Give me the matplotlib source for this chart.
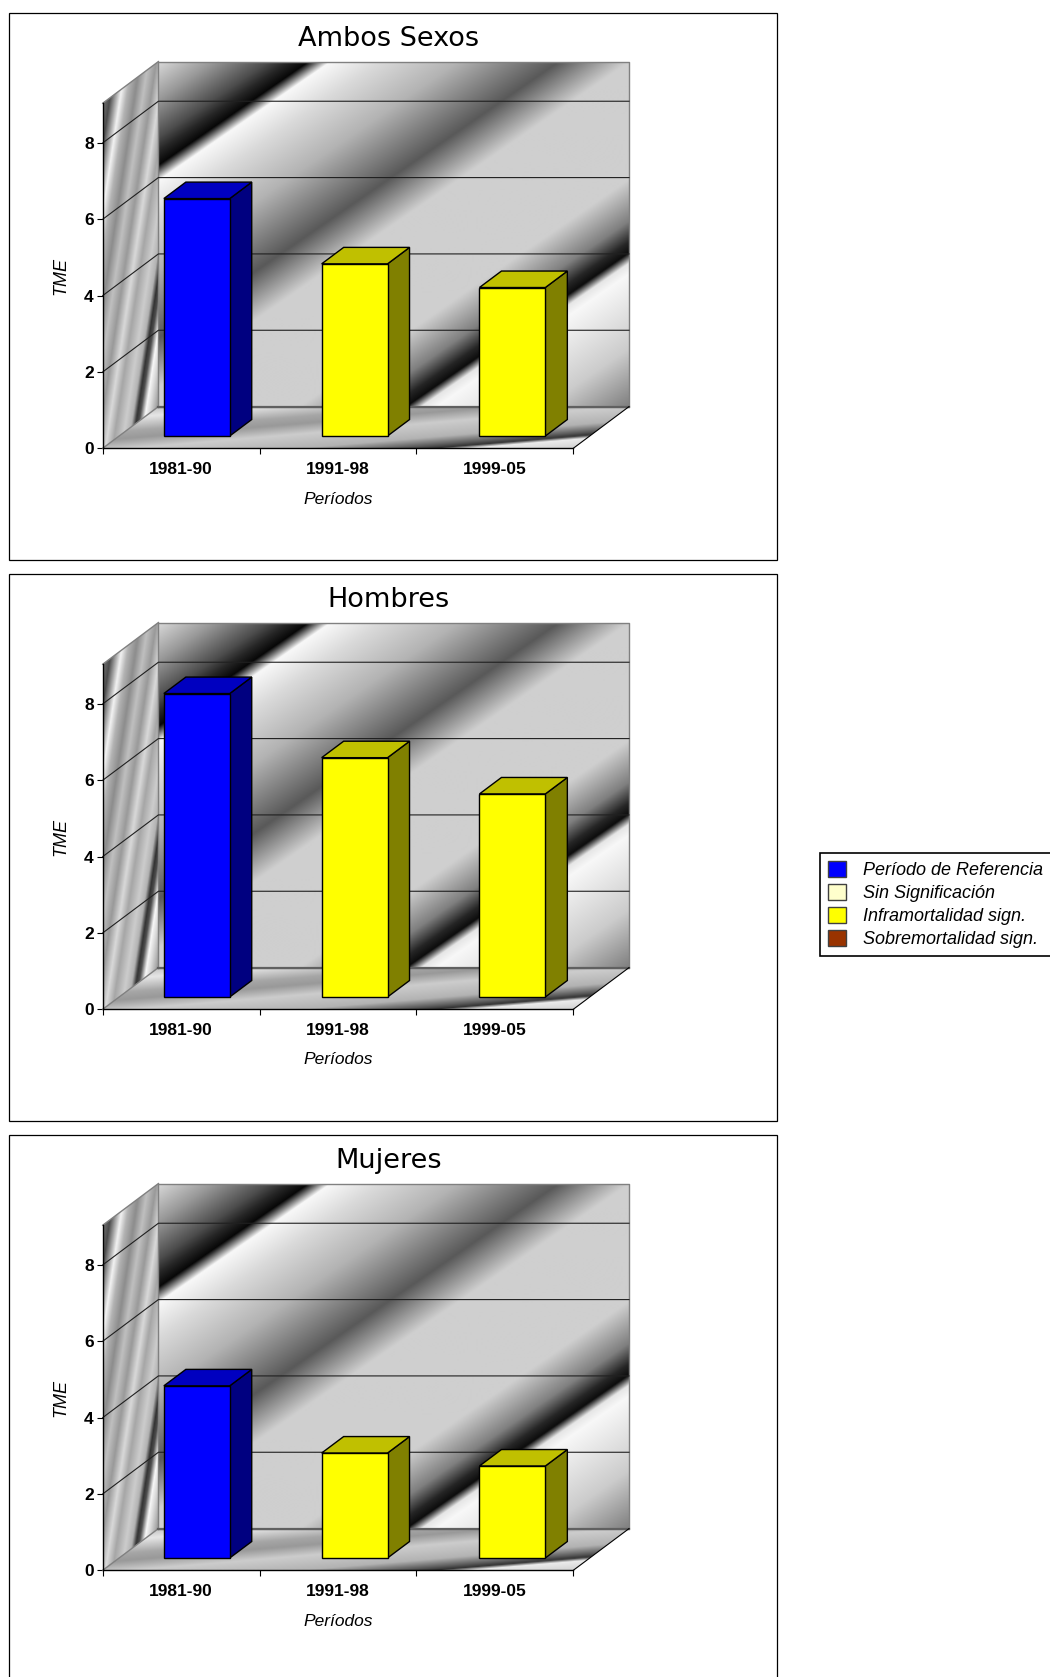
import numpy as np
import matplotlib
matplotlib.use('Agg')
import matplotlib.pyplot as plt
from matplotlib.patches import Polygon, Rectangle, Patch

PERIODOS = ['1981-90', '1991-98', '1999-05']
TME_AMBOS = [6.22, 4.51, 3.89]
TME_HOMBRES = [7.95, 6.27, 5.32]
TME_MUJERES = [4.51, 2.75, 2.41]
TITULOS = ['Ambos Sexos', 'Hombres', 'Mujeres']
Y_TICKS = [0, 2, 4, 6, 8]
Y_MAX = 9.04
LEYENDA = ['Período de Referencia', 'Sin Significación',
           'Inframortalidad sign.', 'Sobremortalidad sign.']
LEYENDA_COLORES = ['#0000FF', '#FFFFCC', '#FFFF00', '#993300']

W, H = 1050, 1677
PANEL_TOPS = [13, 574, 1135]
PANEL_H = 547
PX_CAT = 156.87
PX_TME = 38.17
# 3d offset of the back wall, in data units
DX = 55.7 / PX_CAT
DY = 41.7 / PX_TME

# gray stops of the chart background textures
WALL_S = [0, 55, 110, 130, 150, 172, 222, 300, 400, 470, 640, 700, 730, 746, 761, 777, 884, 968]
WALL_G = [.85, .6, .3, .15, .03, .97, .85, .7, .35, .81, .81, .5, .15, .05, .9, .97, .8, .5]
SIDE_U = [-58, -52, -46, -36, -30, -22, -14, -6, 2, 9, 18, 24, 28, 31, 36, 40, 47, 49]
SIDE_G = [.5, .45, .3, .95, .7, .55, .75, .6, .85, .65, .8, .7, .2, .3, .97, .85, .6, .65]
FLOOR_V = [-37, -28, -15, -8, 2, 16, 24, 27, 30, 39]
FLOOR_G = [.75, .9, .65, .6, .8, .7, .35, .2, .92, .82]

BLUE = ('#0000FF', '#000080', '#0000C0')
YELLOW = ('#FFFF00', '#808000', '#C0C000')
BAR_COLORS = [BLUE, YELLOW, YELLOW]

plt.rcParams['font.family'] = ['Liberation Sans', 'DejaVu Sans']


def project(x, y, d):
    return x + d * DX, y + d * DY


def textured(fig, ax, gray, extent, verts):
    im = ax.imshow(gray, cmap='gray', vmin=0, vmax=1, extent=extent, aspect='auto',
                   origin='upper', interpolation='bilinear', zorder=1)
    im.set_clip_box(fig.bbox)
    im.set_clip_path(Polygon(verts, transform=ax.transData))


def draw_walls(fig, ax):
    wall_w = int(3 * PX_CAT)
    wall_h = int(Y_MAX * PX_TME)
    xx, yy = np.meshgrid(np.arange(wall_w), np.arange(wall_h))
    gray = np.interp(xx + 1.45 * yy, WALL_S, WALL_G)
    textured(fig, ax, gray, (DX, 3 + DX, DY, Y_MAX + DY),
             [(DX, DY), (3 + DX, DY), (3 + DX, Y_MAX + DY), (DX, Y_MAX + DY)])

    side_w = int(DX * PX_CAT)
    side_h = int((Y_MAX + DY) * PX_TME)
    xx, yy = np.meshgrid(np.arange(side_w), np.arange(side_h) - side_h)
    gray = np.interp(xx + 0.15 * yy, SIDE_U, SIDE_G)
    textured(fig, ax, gray, (0, DX, 0, Y_MAX + DY),
             [(0, 0), (DX, DY), (DX, Y_MAX + DY), (0, Y_MAX)])

    floor_w = int((3 + DX) * PX_CAT)
    floor_h = int(DY * PX_TME)
    xx, yy = np.meshgrid(np.arange(floor_w), np.arange(floor_h) - floor_h)
    gray = np.interp(yy + 0.083 * xx, FLOOR_V, FLOOR_G)
    textured(fig, ax, gray, (0, 3 + DX, 0, DY),
             [(0, 0), (3, 0), (3 + DX, DY), (DX, DY)])

    # wall borders
    ax.plot([DX, DX, 3 + DX, 3 + DX, DX], [DY, Y_MAX + DY, Y_MAX + DY, DY, DY],
            color='#808080', lw=1, clip_on=False, zorder=2)
    ax.plot([0, DX], [Y_MAX, Y_MAX + DY], color='#808080', lw=1, clip_on=False, zorder=2)
    ax.plot([0, DX], [0, DY], color='#808080', lw=1, clip_on=False, zorder=2)
    ax.plot([DX, 3 + DX], [DY, DY], color='#606060', lw=1.6, clip_on=False, zorder=2)
    ax.plot([3, 3 + DX], [0, DY], color='black', lw=.8, clip_on=False, zorder=2)


def draw_grid(ax):
    for v in Y_TICKS[1:]:
        ax.plot([0, DX, 3 + DX], [v, v + DY, v + DY], color='#202020', lw=.8,
                clip_on=False, zorder=3)


def draw_bar(ax, i, value, colors):
    x0 = 0.285 + i * 1.006
    x1 = x0 + 0.42
    d0, d1 = 0.295, 0.69
    front = [project(x0, 0, d0), project(x1, 0, d0), project(x1, value, d0), project(x0, value, d0)]
    side = [project(x1, 0, d0), project(x1, 0, d1), project(x1, value, d1), project(x1, value, d0)]
    top = [project(x0, value, d0), project(x1, value, d0), project(x1, value, d1), project(x0, value, d1)]
    for verts, color in zip((side, top, front), (colors[1], colors[2], colors[0])):
        ax.add_patch(Polygon(verts, facecolor=color, edgecolor='black', lw=1,
                             joinstyle='miter', clip_on=False, zorder=4))


def draw_panel(fig, top, title, values):
    # outer frame
    fig.add_artist(Rectangle((9 / W, 1 - (top + PANEL_H) / H), 768 / W, PANEL_H / H,
                             transform=fig.transFigure, facecolor='white',
                             edgecolor='black', lw=.9, zorder=-1))
    fig.text(389 / W, 1 - (top + 26) / H, title, family='DejaVu Sans', fontsize=19.5,
             ha='center', va='center')

    base = top + 435.3
    ax_h = Y_MAX * PX_TME
    ax = fig.add_axes([102.7 / W, 1 - base / H, 3 * PX_CAT / W, ax_h / H])
    ax.patch.set_visible(False)
    draw_walls(fig, ax)
    draw_grid(ax)
    for i, v in enumerate(values):
        draw_bar(ax, i, v, BAR_COLORS[i])

    ax.set_xlim(0, 3)
    ax.set_ylim(0, Y_MAX)
    ax.spines['top'].set_visible(False)
    ax.spines['right'].set_visible(False)
    for s in ('left', 'bottom'):
        ax.spines[s].set_zorder(5)
        ax.spines[s].set_linewidth(1)
    ax.set_yticks(Y_TICKS)
    ax.set_yticklabels([str(v) for v in Y_TICKS], fontweight='bold', fontsize=12.5)
    ax.set_xticks([0, 1, 2, 3])
    ax.set_xticklabels([])
    ax.set_xticks([0.5, 1.5, 2.5], minor=True)
    ax.set_xticklabels(PERIODOS, minor=True, fontweight='bold', fontsize=12.5)
    ax.tick_params(axis='x', which='minor', length=0, pad=10)
    ax.tick_params(axis='x', which='major', length=4, width=.8)
    ax.tick_params(axis='y', length=4, width=.8, pad=2.5)
    ax.set_xlabel('Períodos', style='italic', fontsize=12.5)
    ax.xaxis.set_label_coords(0.5, -(499 - 448.3) / ax_h, transform=ax.transAxes)
    ax.xaxis.label.set_va('center')
    ax.set_ylabel('TME', style='italic', fontsize=13)
    ax.yaxis.set_label_coords((61 - 102.7) / (3 * PX_CAT), (448.3 - 276) / ax_h)
    ax.yaxis.label.set_va('center')
    return ax


fig = plt.figure(figsize=(W / 100, H / 100), dpi=100, facecolor='white')

for top, title, values in zip(PANEL_TOPS, TITULOS, [TME_AMBOS, TME_HOMBRES, TME_MUJERES]):
    draw_panel(fig, top, title, values)

handles = [Patch(facecolor=c, edgecolor='#404040', lw=1) for c in LEYENDA_COLORES]
leg = fig.legend(handles, LEYENDA, loc='upper left', bbox_to_anchor=(820 / W, 1 - 852.5 / H),
                 bbox_transform=fig.transFigure, borderaxespad=0, fancybox=False,
                 edgecolor='black', framealpha=1, prop={'style': 'italic', 'size': 13},
                 handlelength=1, handleheight=1, handletextpad=.95, labelspacing=.27,
                 borderpad=.45)
leg.get_frame().set_linewidth(1.2)

fig.savefig('out.png', dpi=100)
